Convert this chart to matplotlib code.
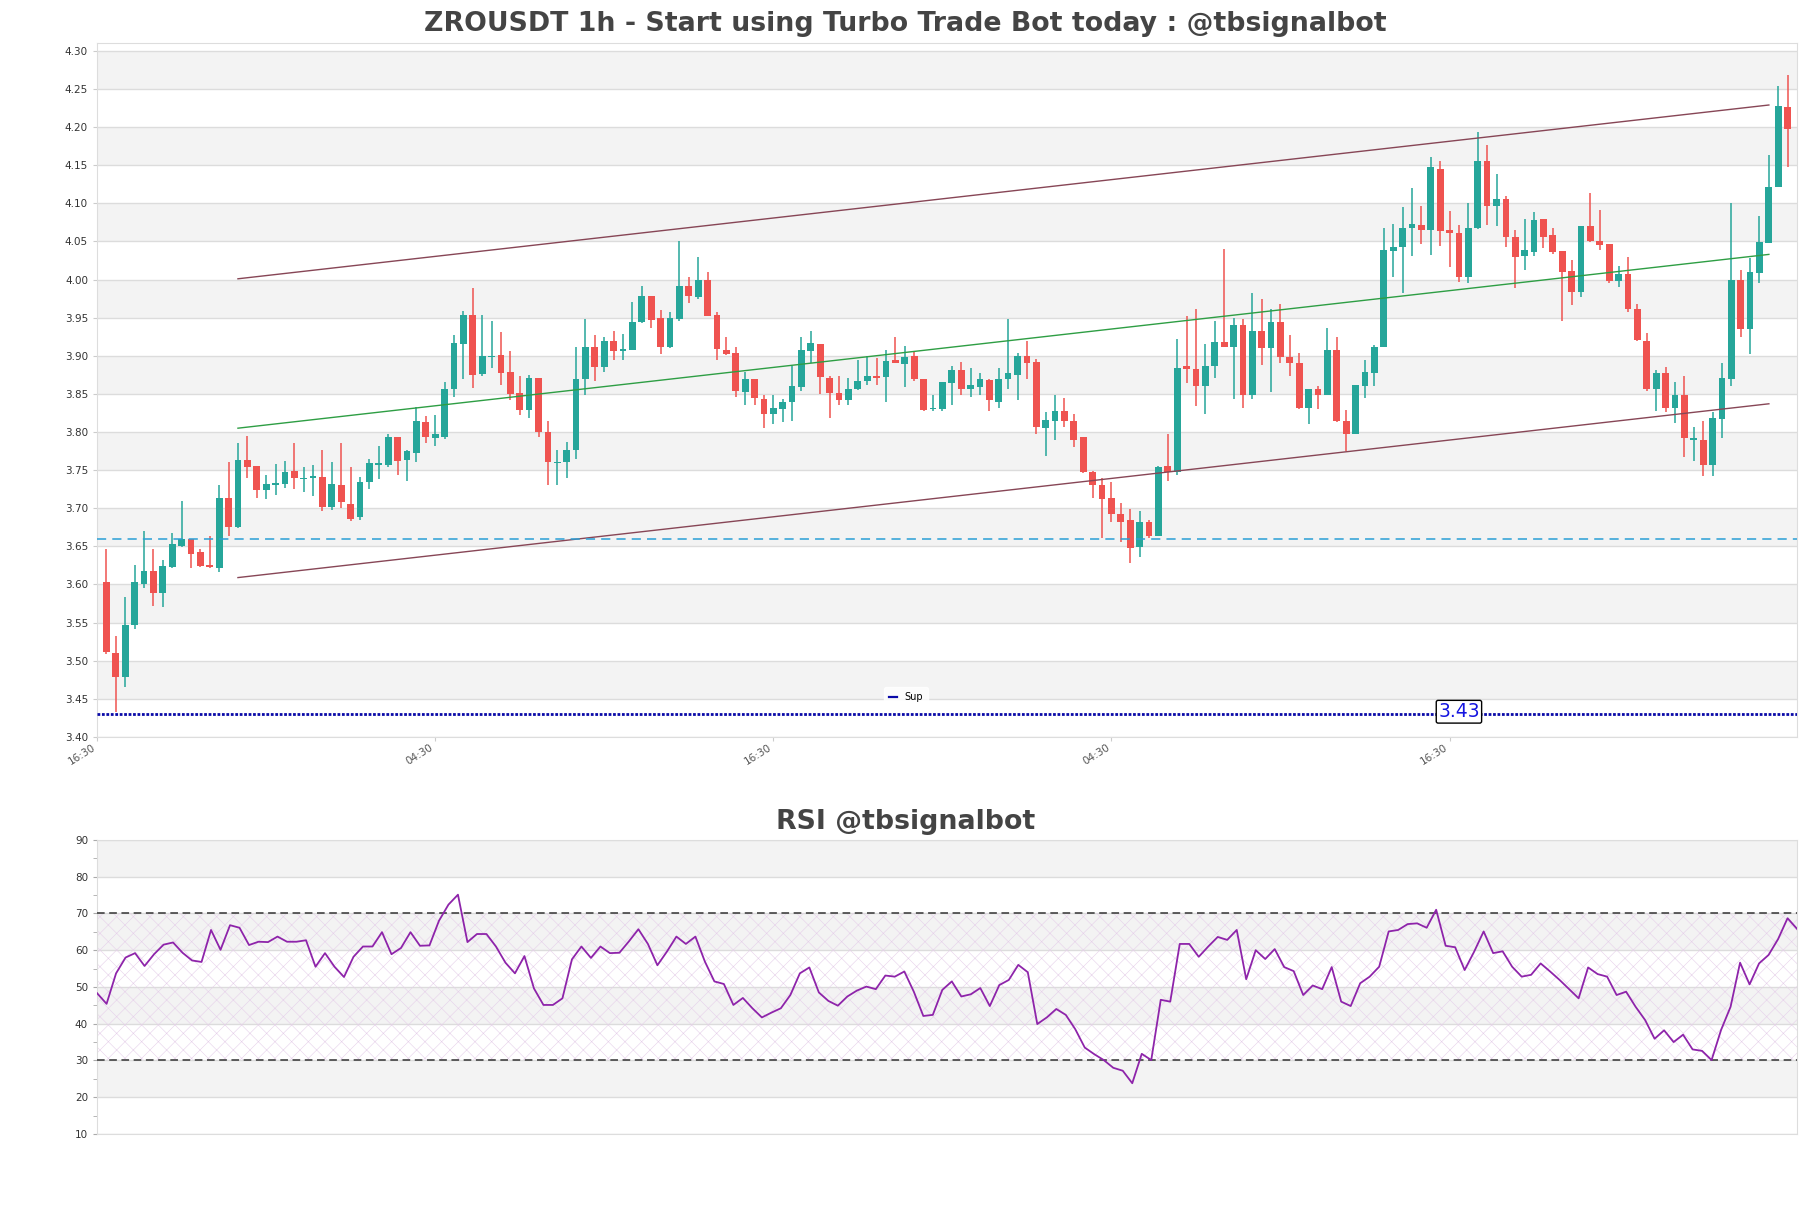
import numpy as np
import matplotlib.pyplot as plt
from matplotlib.lines import Line2D

# ---------------- data ----------------
title = "ZROUSDT 1h - Start using Turbo Trade Bot today : @tbsignalbot"
rsi_title = "RSI @tbsignalbot"

opens = [3.603, 3.510, 3.479, 3.547, 3.600, 3.617, 3.589, 3.623, 3.650, 3.659,
         3.642, 3.625, 3.621, 3.714, 3.675, 3.763, 3.755, 3.724, 3.731, 3.732,
         3.749, 3.738, 3.739, 3.741, 3.702, 3.731, 3.706, 3.688, 3.734, 3.757,
         3.757, 3.794, 3.763, 3.772, 3.813, 3.792, 3.794, 3.857, 3.916, 3.954,
         3.876, 3.899, 3.901, 3.879, 3.851, 3.829, 3.871, 3.800, 3.759, 3.761,
         3.776, 3.870, 3.912, 3.885, 3.919, 3.906, 3.908, 3.944, 3.979, 3.949,
         3.911, 3.948, 3.991, 3.977, 4.000, 3.954, 3.908, 3.903, 3.852, 3.869,
         3.843, 3.824, 3.830, 3.839, 3.859, 3.906, 3.916, 3.871, 3.851, 3.842,
         3.856, 3.867, 3.874, 3.872, 3.894, 3.889, 3.900, 3.869, 3.830, 3.830,
         3.864, 3.881, 3.857, 3.859, 3.868, 3.840, 3.870, 3.875, 3.900, 3.892,
         3.805, 3.815, 3.828, 3.815, 3.793, 3.748, 3.731, 3.713, 3.693, 3.685,
         3.649, 3.682, 3.664, 3.755, 3.748, 3.886, 3.883, 3.860, 3.886, 3.918,
         3.911, 3.940, 3.848, 3.932, 3.910, 3.944, 3.899, 3.891, 3.832, 3.857,
         3.848, 3.907, 3.815, 3.797, 3.860, 3.878, 3.911, 4.038, 4.043, 4.067,
         4.071, 4.065, 4.145, 4.065, 4.061, 4.004, 4.067, 4.155, 4.096, 4.106,
         4.056, 4.031, 4.036, 4.079, 4.058, 4.038, 4.011, 3.984, 4.070, 4.051,
         4.046, 3.998, 4.007, 3.961, 3.920, 3.857, 3.877, 3.832, 3.848, 3.790,
         3.790, 3.757, 3.817, 3.869, 3.999, 3.935, 4.009, 4.048, 4.121, 4.227]
highs = [3.647, 3.533, 3.584, 3.626, 3.670, 3.646, 3.632, 3.667, 3.709, 3.659,
         3.646, 3.663, 3.730, 3.760, 3.786, 3.795, 3.755, 3.743, 3.758, 3.762,
         3.786, 3.754, 3.757, 3.777, 3.760, 3.785, 3.754, 3.741, 3.764, 3.781,
         3.798, 3.794, 3.777, 3.833, 3.821, 3.822, 3.865, 3.927, 3.959, 3.989,
         3.954, 3.946, 3.931, 3.906, 3.873, 3.875, 3.871, 3.815, 3.777, 3.787,
         3.912, 3.948, 3.927, 3.925, 3.933, 3.928, 3.970, 3.991, 3.979, 3.960,
         3.958, 4.051, 4.003, 4.029, 4.010, 3.958, 3.924, 3.911, 3.879, 3.869,
         3.848, 3.849, 3.843, 3.886, 3.924, 3.933, 3.916, 3.874, 3.874, 3.871,
         3.895, 3.900, 3.897, 3.907, 3.924, 3.913, 3.905, 3.869, 3.849, 3.865,
         3.887, 3.892, 3.884, 3.878, 3.870, 3.884, 3.948, 3.903, 3.920, 3.896,
         3.826, 3.848, 3.845, 3.823, 3.794, 3.749, 3.739, 3.735, 3.707, 3.699,
         3.696, 3.685, 3.755, 3.798, 3.922, 3.952, 3.962, 3.916, 3.946, 4.040,
         3.949, 3.948, 3.982, 3.974, 3.962, 3.968, 3.927, 3.904, 3.856, 3.860,
         3.937, 3.925, 3.829, 3.862, 3.894, 3.914, 4.068, 4.073, 4.095, 4.120,
         4.097, 4.161, 4.156, 4.090, 4.071, 4.101, 4.194, 4.177, 4.139, 4.110,
         4.065, 4.079, 4.088, 4.079, 4.067, 4.038, 4.025, 4.070, 4.114, 4.091,
         4.046, 4.018, 4.029, 3.968, 3.930, 3.881, 3.885, 3.866, 3.873, 3.806,
         3.815, 3.826, 3.890, 4.101, 4.012, 4.028, 4.084, 4.164, 4.254, 4.268]
lows = [3.509, 3.432, 3.465, 3.542, 3.595, 3.572, 3.570, 3.621, 3.649, 3.621,
        3.623, 3.622, 3.616, 3.664, 3.674, 3.740, 3.714, 3.712, 3.717, 3.727,
        3.725, 3.721, 3.716, 3.697, 3.698, 3.700, 3.683, 3.684, 3.725, 3.738,
        3.754, 3.744, 3.736, 3.761, 3.786, 3.782, 3.791, 3.846, 3.869, 3.858,
        3.874, 3.884, 3.861, 3.842, 3.822, 3.819, 3.793, 3.731, 3.731, 3.739,
        3.764, 3.848, 3.867, 3.879, 3.895, 3.894, 3.907, 3.943, 3.936, 3.902,
        3.910, 3.946, 3.969, 3.975, 3.952, 3.894, 3.901, 3.846, 3.835, 3.835,
        3.805, 3.810, 3.813, 3.814, 3.854, 3.890, 3.850, 3.819, 3.836, 3.835,
        3.855, 3.861, 3.862, 3.839, 3.891, 3.859, 3.867, 3.828, 3.828, 3.827,
        3.836, 3.848, 3.846, 3.849, 3.827, 3.832, 3.857, 3.842, 3.869, 3.797,
        3.769, 3.789, 3.807, 3.780, 3.746, 3.714, 3.661, 3.682, 3.656, 3.628,
        3.636, 3.661, 3.663, 3.736, 3.743, 3.864, 3.834, 3.824, 3.871, 3.911,
        3.843, 3.832, 3.843, 3.888, 3.853, 3.891, 3.873, 3.830, 3.811, 3.830,
        3.848, 3.813, 3.775, 3.797, 3.844, 3.860, 3.911, 4.004, 3.982, 4.031,
        4.047, 4.032, 4.044, 4.017, 3.997, 3.995, 4.066, 4.071, 4.070, 4.043,
        3.989, 4.013, 4.031, 4.041, 4.033, 3.945, 3.967, 3.977, 4.049, 4.039,
        3.996, 3.990, 3.957, 3.919, 3.854, 3.828, 3.826, 3.812, 3.767, 3.762,
        3.742, 3.742, 3.792, 3.860, 3.925, 3.902, 3.995, 4.048, 4.121, 4.148]
closes = [3.511, 3.479, 3.547, 3.603, 3.617, 3.589, 3.624, 3.653, 3.659, 3.640,
          3.624, 3.623, 3.714, 3.675, 3.763, 3.754, 3.724, 3.732, 3.733, 3.747,
          3.739, 3.739, 3.742, 3.702, 3.732, 3.708, 3.686, 3.735, 3.759, 3.759,
          3.794, 3.762, 3.775, 3.815, 3.793, 3.797, 3.857, 3.917, 3.954, 3.875,
          3.900, 3.900, 3.878, 3.850, 3.829, 3.871, 3.800, 3.760, 3.761, 3.777,
          3.870, 3.912, 3.885, 3.920, 3.906, 3.909, 3.944, 3.978, 3.947, 3.911,
          3.949, 3.991, 3.979, 4.000, 3.952, 3.909, 3.902, 3.854, 3.870, 3.844,
          3.824, 3.832, 3.839, 3.860, 3.907, 3.917, 3.872, 3.851, 3.842, 3.857,
          3.867, 3.874, 3.871, 3.893, 3.891, 3.899, 3.869, 3.829, 3.832, 3.865,
          3.881, 3.857, 3.861, 3.869, 3.842, 3.870, 3.878, 3.900, 3.890, 3.806,
          3.816, 3.828, 3.814, 3.790, 3.747, 3.731, 3.712, 3.692, 3.682, 3.648,
          3.682, 3.664, 3.754, 3.748, 3.884, 3.883, 3.860, 3.887, 3.918, 3.911,
          3.941, 3.848, 3.932, 3.910, 3.944, 3.898, 3.890, 3.832, 3.856, 3.848,
          3.907, 3.814, 3.798, 3.861, 3.879, 3.911, 4.039, 4.043, 4.068, 4.073,
          4.065, 4.148, 4.064, 4.061, 4.004, 4.068, 4.155, 4.096, 4.106, 4.056,
          4.030, 4.039, 4.078, 4.056, 4.036, 4.010, 3.984, 4.070, 4.050, 4.045,
          3.998, 4.007, 3.962, 3.921, 3.857, 3.877, 3.832, 3.848, 3.792, 3.792,
          3.757, 3.818, 3.871, 4.000, 3.935, 4.010, 4.049, 4.121, 4.228, 4.198]

rsi = [48.3, 45.4, 53.7, 58.0, 59.2, 55.7, 58.9, 61.5, 62.1, 59.3,
       57.2, 56.8, 65.5, 60.1, 66.8, 66.1, 61.4, 62.3, 62.2, 63.7,
       62.3, 62.3, 62.7, 55.5, 59.2, 55.5, 52.7, 58.2, 61.0, 61.0,
       64.9, 58.9, 60.6, 64.9, 61.2, 61.3, 68.0, 72.4, 75.1, 62.2,
       64.4, 64.4, 61.0, 56.6, 53.7, 58.4, 49.6, 45.1, 45.1, 46.9,
       57.5, 61.0, 57.9, 61.0, 59.2, 59.3, 62.4, 65.7, 61.7, 55.9,
       59.6, 63.7, 61.7, 63.7, 56.9, 51.5, 50.8, 45.1, 47.0, 44.2,
       41.7, 43.0, 44.2, 47.8, 53.7, 55.3, 48.5, 46.2, 44.9, 47.4,
       49.0, 50.1, 49.4, 53.1, 52.8, 54.2, 48.7, 42.1, 42.4, 49.2,
       51.5, 47.4, 48.0, 49.7, 44.8, 50.5, 51.9, 56.0, 54.0, 39.9,
       41.7, 44.0, 42.4, 38.5, 33.5, 31.7, 30.1, 28.0, 27.2, 23.8,
       31.8, 30.1, 46.5, 46.0, 61.7, 61.7, 58.2, 61.0, 63.6, 62.8,
       65.5, 52.1, 60.0, 57.6, 60.3, 55.4, 54.3, 47.8, 50.4, 49.4,
       55.4, 46.0, 44.8, 51.0, 52.8, 55.5, 65.1, 65.5, 67.1, 67.3,
       66.1, 71.0, 61.2, 60.8, 54.6, 59.6, 65.1, 59.2, 59.7, 55.5,
       52.8, 53.3, 56.4, 54.2, 51.9, 49.4, 46.9, 55.3, 53.5, 52.8,
       47.8, 48.7, 44.6, 41.0, 35.9, 38.2, 35.0, 37.0, 33.0, 32.6,
       30.1, 38.3, 44.6, 56.6, 50.7, 56.4, 58.7, 63.0, 68.7, 65.8]

tick_pos = [-1, 35, 71, 107, 143]
tick_labels = ["16:30", "04:30", "16:30", "04:30", "16:30"]

# channel lines (start/end candle index and price)
chan_x = [14, 177]
chan_upper = [4.001, 4.229]
chan_mid = [3.805, 4.033]
chan_lower = [3.609, 3.837]

level_line = 3.66
sup_level = 3.43
sup_label_x = 144

# ---------------- figure ----------------
up_col = '#26a69a'
dn_col = '#ef5350'
band_col = '#f3f3f3'
grid_col = '#dcdcdc'
plt.rcParams['hatch.linewidth'] = 0.4

fig = plt.figure(figsize=(18.11, 12.08), dpi=100)
ax = fig.add_axes([0.0536, 0.390, 0.9387, 0.5745])

o = np.array(opens)
h = np.array(highs)
l = np.array(lows)
c = np.array(closes)
x = np.arange(len(o))
cols = np.where(c >= o, up_col, dn_col)

# background bands
for lo in np.arange(3.45, 4.30, 0.10):
    ax.axhspan(lo, lo + 0.05, color=band_col, zorder=0, lw=0)

ax.vlines(x, l, h, colors=cols, lw=1.1, zorder=2)
body_lo = np.minimum(o, c)
body_h = np.maximum(np.abs(c - o), 0.0012)
ax.bar(x, body_h, bottom=body_lo, width=0.72, color=cols, zorder=3, lw=0)

ax.plot(chan_x, chan_upper, color='#874656', lw=1, zorder=4)
ax.plot(chan_x, chan_mid, color='#2e9e44', lw=1, zorder=4)
ax.plot(chan_x, chan_lower, color='#874656', lw=1, zorder=4)

ax.axhline(level_line, color='#2a9fd6', lw=1.1, ls=(0, (6, 4)), zorder=4)
ax.axhline(sup_level, color='#0a0aa8', lw=2, ls=(0, (1, 0.6)), zorder=4)
ax.text(sup_label_x, sup_level + 0.003, "3.43", color='#1515e0', fontsize=13.5,
        ha='center', va='center', zorder=6,
        bbox=dict(boxstyle='round,pad=0.1', fc='white', ec='black', lw=1))

leg = ax.legend([Line2D([0], [0], color='#0a0aa8', lw=1.6)], ['Sup'],
                loc='center', bbox_to_anchor=(0.476, 0.057), fontsize=7,
                frameon=True, handlelength=0.8, borderpad=0.5)
leg.get_frame().set_edgecolor('white')
leg.get_frame().set_facecolor('white')

ax.set_xlim(-1, 180)
ax.set_ylim(3.40, 4.3105)
ax.set_yticks(np.arange(3.40, 4.301, 0.05))
ax.set_yticklabels([f"{v:.2f}" for v in np.arange(3.40, 4.301, 0.05)])
ax.grid(axis='y', color=grid_col, lw=1, zorder=1)
ax.set_axisbelow(True)
ax.set_xticks(tick_pos)
ax.set_xticklabels(tick_labels, rotation=32, ha='right')
ax.tick_params(axis='both', labelsize=7.5, length=3, color='#cccccc', labelcolor='#333333')
ax.tick_params(axis='x', labelcolor='#555555', pad=1)
for s in ax.spines.values():
    s.set_color('#dddddd')
fig.text(0.5, 0.980, title, fontsize=19.3, fontweight='bold', color='#444444',
         ha='center', va='center')

# ---------------- RSI panel ----------------
ax2 = fig.add_axes([0.0536, 0.0613, 0.9387, 0.2434])
for lo in [20, 40, 60, 80]:
    ax2.axhspan(lo, lo + 10, color=band_col, zorder=0, lw=0)
ax2.axhspan(30, 70, fill=False, hatch='xx', edgecolor='#e6d0ea', lw=0, zorder=1)
ax2.axhline(70, color='#333333', lw=1.1, ls=(0, (5, 3)), zorder=3)
ax2.axhline(30, color='#333333', lw=1.1, ls=(0, (5, 3)), zorder=3)
ax2.plot(np.arange(len(rsi)), rsi, color='#8e24aa', lw=1.3, zorder=4)
ax2.set_xlim(0, len(rsi) - 1)
ax2.set_ylim(10, 90)
ax2.set_yticks(np.arange(10, 91, 10))
ax2.set_yticks(np.arange(15, 90, 10), minor=True)
ax2.grid(axis='y', color=grid_col, lw=1, zorder=1)
ax2.set_axisbelow(True)
ax2.set_xticks([])
ax2.tick_params(axis='y', which='both', labelsize=7.5, length=3, color='#aaaaaa',
                labelcolor='#333333')
for s in ax2.spines.values():
    s.set_color('#dddddd')
fig.text(0.5, 0.3195, rsi_title, fontsize=19.3, fontweight='bold', color='#444444',
         ha='center', va='center')

fig.savefig('out.png', dpi=100)
